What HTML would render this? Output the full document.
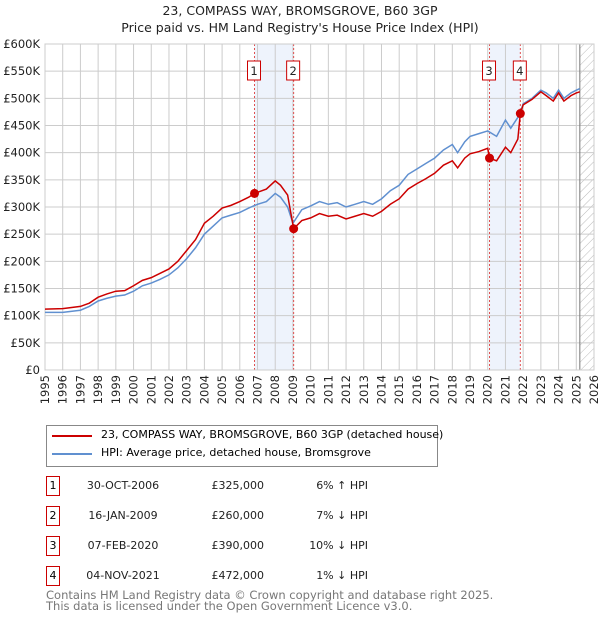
<!DOCTYPE html>
<html><head><meta charset="utf-8"><style>
body{margin:0;width:600px;height:620px;background:#fff;font-family:"DejaVu Sans","Liberation Sans",sans-serif;position:relative;overflow:hidden}
.t{position:absolute;white-space:nowrap}
.title{left:0;width:600px;text-align:center;font-size:12.5px;color:#222}
.row{position:absolute;font-size:11px;color:#222}
.box{position:absolute;left:46px;width:12px;height:18px;border:1px solid #c00;text-align:center;font-size:11px;line-height:18px}
</style></head><body>
<div class="t title" style="top:3px">23, COMPASS WAY, BROMSGROVE, B60 3GP</div>
<div class="t title" style="top:20px">Price paid vs. HM Land Registry's House Price Index (HPI)</div>
<svg id="chart" width="600" height="410" style="position:absolute;left:0;top:0"></svg>
<div style="position:absolute;left:46px;top:425px;width:390px;height:40px;border:1px solid #888">
 <div style="position:absolute;left:5px;top:9px;width:40px;height:2px;background:#c00"></div>
 <div class="t" style="left:54px;top:2px;font-size:11px">23, COMPASS WAY, BROMSGROVE, B60 3GP (detached house)</div>
 <div style="position:absolute;left:5px;top:27px;width:40px;height:2px;background:#6090d0"></div>
 <div class="t" style="left:54px;top:20px;font-size:11px">HPI: Average price, detached house, Bromsgrove</div>
</div>
<div id="tbl"></div>
<div class="t" style="left:46px;top:590px;font-size:11.5px;color:#777;line-height:10.5px">Contains HM Land Registry data © Crown copyright and database right 2025.<br>This data is licensed under the Open Government Licence v3.0.</div>
<script>
const hpiDates=[1995,1996,1997,1997.5,1998,1998.5,1999,1999.5,2000,2000.5,2001,2001.5,2002,2002.5,2003,2003.5,2004,2004.5,2005,2005.5,2006,2006.5,2007,2007.5,2008,2008.3,2008.7,2009,2009.5,2010,2010.5,2011,2011.5,2012,2012.5,2013,2013.5,2014,2014.5,2015,2015.5,2016,2016.5,2017,2017.5,2018,2018.3,2018.7,2019,2019.5,2020,2020.5,2021,2021.3,2021.8,2022,2022.5,2023,2023.3,2023.7,2024,2024.3,2024.7,2025,2025.2];
const hpiValues=[106,106,110,117,127,132,136,138,145,155,160,167,175,188,205,225,250,265,280,285,290,298,305,310,325,318,300,270,295,302,310,305,308,300,305,310,305,315,330,340,360,370,380,390,405,415,400,420,430,435,440,430,460,445,470,490,500,515,510,500,515,500,510,515,518];
const propDates=[1995,1996,1997,1997.5,1998,1998.5,1999,1999.5,2000,2000.5,2001,2001.5,2002,2002.5,2003,2003.5,2004,2004.5,2005,2005.5,2006,2006.5,2006.83,2007,2007.5,2008,2008.3,2008.7,2009.04,2009.5,2010,2010.5,2011,2011.5,2012,2012.5,2013,2013.5,2014,2014.5,2015,2015.5,2016,2016.5,2017,2017.5,2018,2018.3,2018.7,2019,2019.5,2020,2020.1,2020.5,2021,2021.3,2021.7,2021.84,2022,2022.5,2023,2023.3,2023.7,2024,2024.3,2024.7,2025,2025.2];
const propValues=[112,113,117,123,134,140,145,146,155,165,170,178,186,200,220,240,270,283,298,303,310,318,325,327,333,348,340,322,260,275,280,288,283,285,278,283,288,283,292,305,315,333,343,352,362,377,385,372,390,398,402,408,390,385,410,400,425,472,488,498,512,505,495,510,495,505,510,512];
const saleDates=[2006.83,2009.04,2020.1,2021.84];
const saleValues=[325,260,390,472];
const saleLabels=["30-OCT-2006","16-JAN-2009","07-FEB-2020","04-NOV-2021"];
const salePrices=["£325,000","£260,000","£390,000","£472,000"];
const saleHpi=["6% ↑ HPI","7% ↓ HPI","10% ↓ HPI","1% ↓ HPI"];
const yTicks=[0,50,100,150,200,250,300,350,400,450,500,550,600];
const xYears=[1995,1996,1997,1998,1999,2000,2001,2002,2003,2004,2005,2006,2007,2008,2009,2010,2011,2012,2013,2014,2015,2016,2017,2018,2019,2020,2021,2022,2023,2024,2025,2026];

const L=45,R=594,T=44,B=370;
const X=d=>L+(d-1995)/31*(R-L);
const Y=v=>B-v/600*(B-T);
const svg=document.getElementById('chart');
const NS='http://www.w3.org/2000/svg';
function mk(tag,a,parent){const e=document.createElementNS(NS,tag);for(const k in a)e.setAttribute(k,a[k]);(parent||svg).appendChild(e);return e;}
for(let i=0;i<4;i+=2){
 const r=mk('rect',{x:X(saleDates[i]),y:T,width:X(saleDates[i+1])-X(saleDates[i]),height:B-T,fill:'#eef3fc'});
 
 
}
const defs=mk('defs',{});
const pat=mk('pattern',{id:'h',width:6,height:6,patternUnits:'userSpaceOnUse',patternTransform:'rotate(45)'},defs);
mk('line',{x1:0,y1:0,x2:0,y2:6,stroke:'#bbb','stroke-width':1},pat);
const hz=mk('rect',{x:X(2025.2),y:T,width:R-X(2025.2),height:B-T,fill:'url(#h)'});


yTicks.forEach(v=>{
 const g=mk('line',{x1:L,x2:R,y1:Y(v),y2:Y(v),stroke:'#ccc'});
 
 
 const t=mk('text',{x:L-5,y:Y(v)+4,'text-anchor':'end','font-size':11.5,fill:'#222'});
 t.textContent='£'+(v===0?'0':v+'K');
 
 
});
xYears.forEach(yr=>{
 const g=mk('line',{x1:X(yr),x2:X(yr),y1:T,y2:B,stroke:'#ccc'});
 
 
 const t=mk('text',{x:X(yr)+4,y:B+5,'text-anchor':'end','font-size':11.5,fill:'#222',transform:'rotate(-90 '+(X(yr)+4)+' '+(B+5)+')'});
 t.textContent=yr;
 
 
});
const vl=mk('line',{x1:X(2025.2),x2:X(2025.2),y1:T,y2:B,stroke:'#777'});


saleDates.forEach((d,i)=>{
 const l=mk('line',{x1:X(d),x2:X(d),y1:T,y2:B,stroke:'#e05050','stroke-dasharray':'2,2'});
 
 
 const bx=mk('rect',{x:X(d)-7,y:61,width:13,height:19,fill:'#fff',stroke:'#c00'});
 
 
 const t=mk('text',{x:X(d)-0.5,y:75,'text-anchor':'middle','font-size':11.5,fill:'#222'});
 t.textContent=i+1;
 
 
});
mk('rect',{x:L,y:T,width:R-L,height:B-T,fill:'none',stroke:'#ccc'});
const hp=mk('polyline',{points:hpiDates.map((d,i)=>X(d)+','+Y(hpiValues[i])).join(' '),fill:'none',stroke:'#6090d0','stroke-width':1.5});


const pp=mk('polyline',{points:propDates.map((d,i)=>X(d)+','+Y(propValues[i])).join(' '),fill:'none',stroke:'#cc0000','stroke-width':1.5});


saleDates.forEach((d,i)=>{
 const c=mk('circle',{cx:X(d),cy:Y(saleValues[i]),r:4.5,fill:'#cc0000'});
 
 
});
const tbl=document.getElementById('tbl');
saleLabels.forEach((s,i)=>{
 const y=476+i*30;
 const b=document.createElement('div');b.className='box';b.style.top=y+'px';b.textContent=i+1;
 
 
 tbl.appendChild(b);
 const cells=[[s,123],[salePrices[i],264],[saleHpi[i],368]];
 cells.forEach(([txt,x],j)=>{
  const c=document.createElement('div');c.className='row';c.style.top=(y+3)+'px';
  if(j===0){c.style.left=(x-50)+'px';c.style.width='100px';c.style.textAlign='center';}
  else{c.style.left=(x-100)+'px';c.style.width='100px';c.style.textAlign='right';}
  c.textContent=txt;
  
  
  tbl.appendChild(c);
 });
});
</script>
</body></html>
